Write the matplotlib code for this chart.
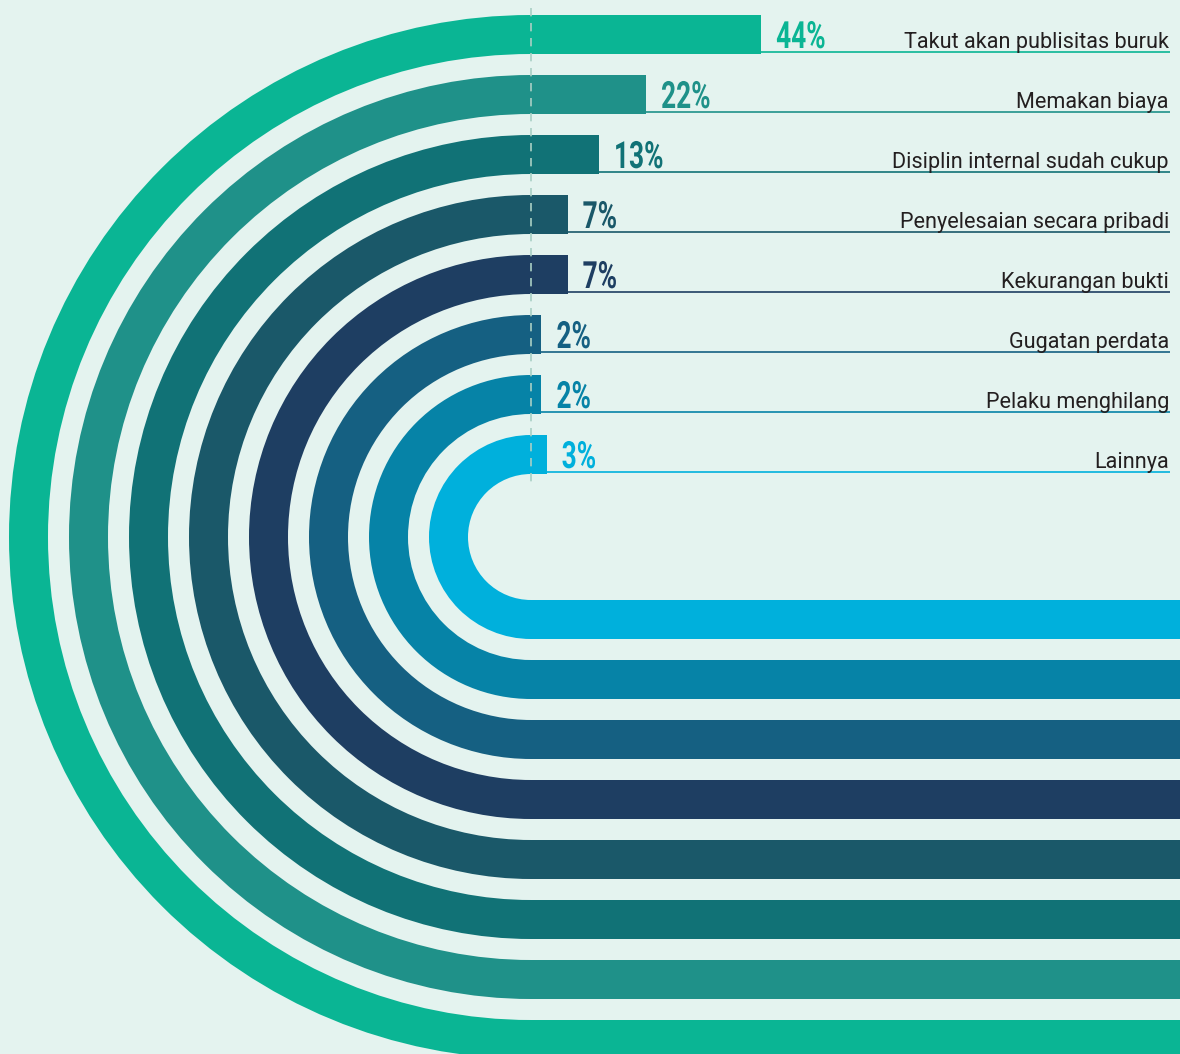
import matplotlib.pyplot as plt
from matplotlib.patches import Rectangle, Wedge
from matplotlib import patheffects as pe
from matplotlib.transforms import Affine2D

# Data
labels = ['Takut akan publisitas buruk', 'Memakan biaya', 'Disiplin internal sudah cukup',
          'Penyelesaian secara pribadi', 'Kekurangan bukti', 'Gugatan perdata',
          'Pelaku menghilang', 'Lainnya']
values = [44, 22, 13, 7, 7, 2, 2, 3]
colors = ['#0ab594', '#1f9189', '#117276', '#1a5869', '#1e3e62', '#156082', '#0683a7', '#00b0dc']

bg = '#e4f3ef'
W, H = 1180, 1054
cx, cy = 531, 537          # centre of the half circles
band = 39                   # band thickness
step = 60
top0 = 15
scale = 5.23                # pixels per percent


# squeeze text horizontally to get a condensed look
class Narrow(pe.AbstractPathEffect):
    def __init__(self, sx):
        super().__init__()
        self.sx = sx

    def draw_path(self, renderer, gc, tpath, affine, rgbFace=None):
        renderer.draw_path(gc, tpath, Affine2D().scale(self.sx, 1) + affine, rgbFace)


fig = plt.figure(figsize=(W / 100, H / 100), dpi=100, facecolor=bg)
ax = fig.add_axes([0, 0, 1, 1])
ax.set_xlim(0, W)
ax.set_ylim(H, 0)
ax.set_facecolor(bg)
ax.axis('off')

for i, (lab, v, c) in enumerate(zip(labels, values, colors)):
    top = top0 + i * step
    bottom = top + band
    r_out = cy - top
    x_end = cx + v * scale
    # top bar
    ax.add_patch(Rectangle((cx - 1, top), x_end - cx + 1, band, color=c, lw=0))
    # half ring on the left
    ax.add_patch(Wedge((cx, cy), r_out, 90, 270, width=band, color=c, lw=0))
    # bottom band running to the right edge
    ax.add_patch(Rectangle((cx - 1, cy + r_out - band), W - cx + 10, band, color=c, lw=0))
    # thin line under the label
    ax.plot([x_end, 1170], [bottom - 2, bottom - 2], color=c, lw=1.2, solid_capstyle='butt')
    # value label
    ax.text(x_end + 15, bottom - 6, f'{v}%', color=c, fontsize=27, fontweight='bold',
            family=['Roboto', 'DejaVu Sans'], ha='left', va='baseline',
            path_effects=[Narrow(0.7)])
    # category label
    ax.text(1169, bottom - 6, lab, color='#231f20', fontsize=15.6,
            family=['Roboto', 'DejaVu Sans'], ha='right', va='baseline')

# dashed reference line
ax.plot([cx, cx], [8, 488], color='#a9cfc4', lw=1.2, ls=(0, (5, 4)))

fig.savefig('out.png', dpi=100, facecolor=bg)
